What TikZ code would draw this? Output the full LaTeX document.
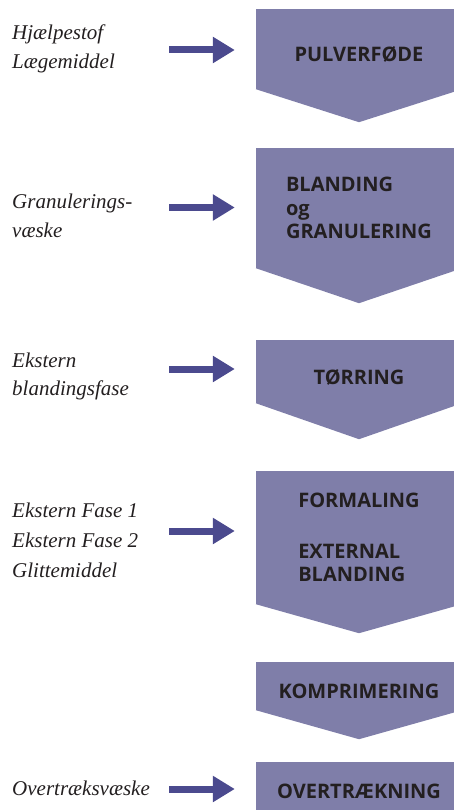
\documentclass[tikz,border=0pt]{standalone}
\usepackage{fontspec}
\setmainfont{Liberation Serif}
\newfontfamily\stagefont{Open Sans}
\usetikzlibrary{calc,arrows.meta}
\definecolor{stagefill}{HTML}{7F7EA9}
\definecolor{feedblue}{HTML}{4B4A8E}
\definecolor{ink}{HTML}{231F20}
\tikzset{
  stage/.style={fill=stagefill, minimum width=206pt, inner sep=0pt, align=left, text=ink,
    font=\stagefont\bfseries\fontsize{20}{23.5}\selectfont},
  oneline/.style={text height=25pt, text depth=0pt},
  stagetip/.style={fill=stagefill},
  feed/.style={draw=feedblue, line width=7pt, -{Triangle[length=22pt,width=25pt]}, shorten >=21pt},
  inlab/.style={anchor=base west, align=left, text=ink, inner sep=0pt,
    font=\itshape\fontsize{21}{28.5}\selectfont},
}

\begin{document}
\begin{tikzpicture}[x=1pt,y=-1pt]
  \useasboundingbox (0,0) rectangle (454,810);
  \clip (0,0) rectangle (454,810);

  % process stages
  \node[stage,oneline,minimum height=79.5pt] (pulver) at (359,49.25) {PULVERFØDE};
  \node[stage,minimum height=120pt] (bland) at (359,208) {BLANDING\\og\\GRANULERING};
  \node[stage,oneline,minimum height=63pt] (toer) at (359,371.5) {TØRRING};
  \node[stage,minimum height=133pt] (formal) at (359,537.5) {FORMALING\\[27pt]EXTERNAL\\BLANDING};
  \node[stage,oneline,minimum height=48pt] (kompr) at (359,686) {KOMPRIMERING};
  \node[stage,oneline,minimum height=48pt] (overtraek) at (359,786) {OVERTRÆKNING};

  \foreach \s/\d in {pulver/33,bland/35,toer/36,formal/29,kompr/29}
    \fill[stagetip] (\s.south west) -- ([yshift=-\d pt]\s.south) -- (\s.south east) -- cycle;

  % inputs (anchored on the last line)
  \node[inlab] (hjaelp) at (12,68.5) {Hjælpestof\\Lægemiddel};
  \node[inlab] (granvaeske) at (12,237.5) {Granulerings-\\væske};
  \node[inlab] (ekstern) at (12,395.5) {Ekstern\\blandingsfase};
  \node[inlab,font=\itshape\fontsize{21}{30}\selectfont] (faser) at (12,577) {Ekstern Fase 1\\Ekstern Fase 2\\Glittemiddel};
  \node[inlab] (overvaeske) at (12,795) {Overtræksvæske};

  \coordinate (f1) at (169,50);
  \coordinate (f2) at (169,207.5);
  \coordinate (f3) at (169,369);
  \coordinate (f4) at (169,531);
  \coordinate (f5) at (169,789);

  \foreach \f/\s in {f1/pulver,f2/bland,f3/toer,f4/formal,f5/overtraek}
    \draw[feed] (\f) -- (\f -| \s.west);
\end{tikzpicture}
\end{document}
